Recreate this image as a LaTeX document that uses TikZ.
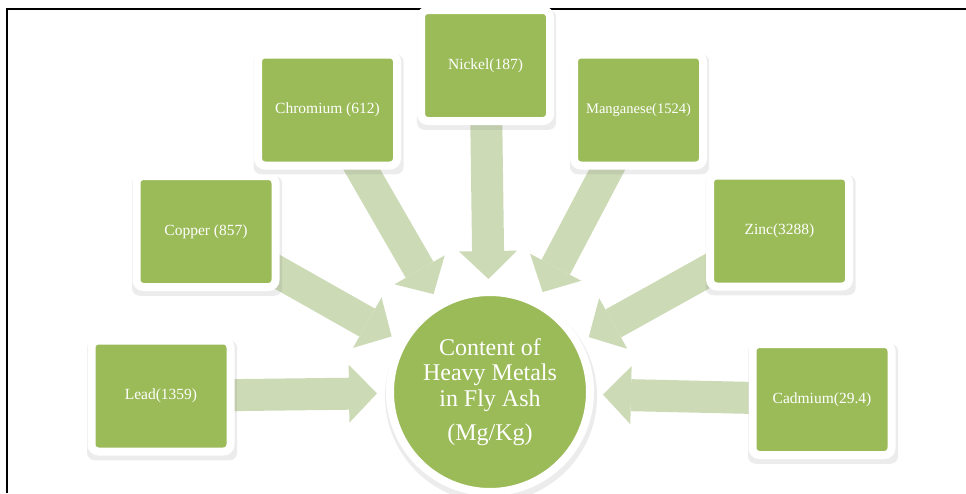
\documentclass[tikz,border=0pt]{standalone}
\usepackage{fontspec}
\setmainfont{Liberation Serif}
\usetikzlibrary{arrows.meta,shadows,backgrounds}
\definecolor{metalgreen}{HTML}{9BBB59}
\definecolor{feedgreen}{HTML}{CCDAB5}

\begin{document}
\begin{tikzpicture}[x=1pt, y=-1pt,
	metal node/.style={rectangle,rounded corners=7pt,fill=metalgreen,draw=white,line width=8pt,
		minimum width=139pt,minimum height=111pt,inner sep=0pt,text=white,font=\fontsize{15.5}{18}\selectfont,
		drop shadow={shadow scale=1.08,shadow xshift=1pt,shadow yshift=-4pt,opacity=.15}},
	main node/.style={circle,fill=metalgreen,draw=white,line width=8pt,minimum size=200pt,inner sep=0pt,
		text=white,align=center,font=\fontsize{24}{25.5}\selectfont,
		drop shadow={shadow scale=1.06,shadow xshift=1pt,shadow yshift=-4pt,opacity=.15}},
	feed/.style={color=feedgreen,line width=32pt,-{Triangle[length=28pt,width=58pt,line width=0pt,color=feedgreen,fill=feedgreen]},shorten >=9pt}]
	
	\useasboundingbox (0,0) rectangle (966,493);
	\draw[line width=2pt] (7,493) -- (7,9) -- (966,9);
	
	\node[main node] (content) at (490,392) {Content of\\Heavy Metals\\in Fly Ash\\[9pt](Mg/Kg)};
	
	\node[metal node] (lead) at (161,396) {Lead(1359)};
	\node[metal node] (copper) at (206,231.5) {Copper (857)};
	\node[metal node] (chromium) at (327.5,110) {Chromium (612)};
	\node[metal node,minimum width=129pt] (nickel) at (485.5,65.5) {Nickel(187)};
	\node[metal node,minimum width=129pt,font=\fontsize{14.5}{17}\selectfont] (manganese) at (638.5,110) {Manganese(1524)};
	\node[metal node] (zinc) at (779.5,231) {Zinc(3288)};
	\node[metal node] (cadmium) at (822,399.5) {Cadmium(29.4)};
	
	\begin{pgfonlayer}{background}
	\path[feed]
	(lead.center) edge (content)
	(copper.center) edge (content)
	(chromium.center) edge (content)
	(nickel.center) edge (content)
	(manganese.center) edge (content)
	(zinc.center) edge (content)
	(cadmium.center) edge (content);
	\end{pgfonlayer}
\end{tikzpicture}
\end{document}
